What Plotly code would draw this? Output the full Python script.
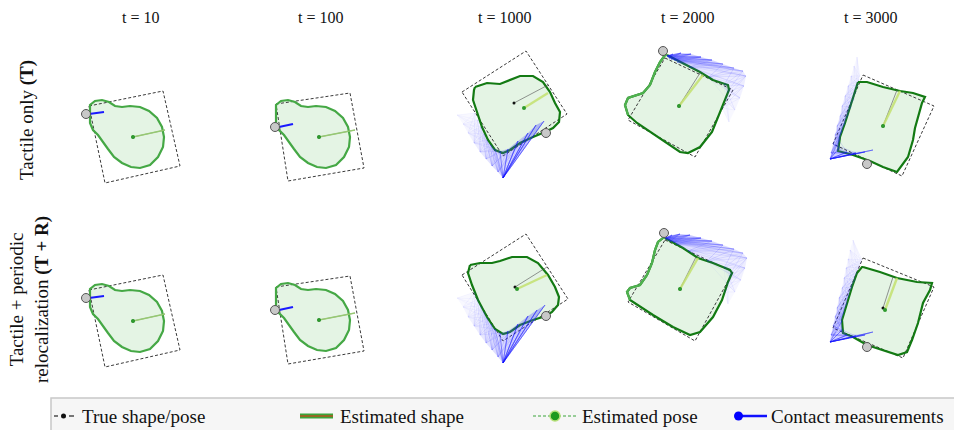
import plotly.graph_objects as go

FIG_W, FIG_H = 954, 430

# ---------------- text ----------------
col_titles = ["t = 10", "t = 100", "t = 1000", "t = 2000", "t = 3000"]
row_titles = ["Tactile only <b>(T)</b>",
              "Tactile + periodic<br>relocalization <b>(T + R)</b>"]
legend_labels = ["True shape/pose", "Estimated shape", "Estimated pose", "Contact measurements"]

# ---------------- data (local object frame, true pose at origin, y down) ----------------
# initial pear-shaped estimate (t = 10, t = 100)
pear_x = [-43, -43, -38, -31, -24, -18, -11, -3, 7, 16, 24, 29, 31, 30, 25, 17, 7, -2, -11, -19, -25, -30, -35, -40, -43]
pear_y = [-24, -32, -36, -37, -35, -31, -30, -31, -30, -26, -19, -10, 0, 10, 20, 28, 31, 30, 26, 20, 12, 5, -2, -7, -14]

t10_true_x = [-44, 30, 47, -28]
t10_true_y = [-31, -46, 29, 46]
t10_est_center = [0, 0]
t10_est_dir = [32, -7]
t10_true_dir = [32, -7]
t10_touch = [-47, -23]
t10_meas_x = [-44, -29]
t10_meas_y = [-23, -25]

t100_true_x = [-43, 31, 45, -31]
t100_true_y = [-33, -44, 31, 44]
t100_est_center = [0, 0]
t100_est_dir = [36, -7]
t100_true_dir = [36, -7]
t100_touch = [-44, -10]
t100_meas_x = [-40, -26]
t100_meas_y = [-10, -13]

# t = 1000
r1_t1000_est_x = [-39, -27, -14, -6, 6, 19, 29, 36, 41, 46, 45, 39, 31, 19, 6, -4, -11, -19, -26, -32, -37, -41, -40]
r1_t1000_est_y = [-16, -20, -19, -22, -27, -27, -21, -11, 0, 9, 19, 25, 29, 34, 40, 47, 50, 47, 37, 24, 10, -3, -13]
r1_t1000_true_x = [-52, 12, 53, -11]
r1_t1000_true_y = [-11, -52, 11, 53]
r1_t1000_est_center = [10, 5]
r1_t1000_est_dir = [34, -10]
r1_t1000_true_dir = [34, -18]
r1_t1000_touch = [32, 30]
r1_t1000_src_x = [-11, -11, -11, -11, -11, -16, -22, -28, -34, -40, -46, -51, -57]
r1_t1000_src_y = [75, 75, 75, 75, 75, 69, 63, 56, 49, 40, 30, 21, 12]
r1_t1000_hit_x = [30, 22, 14, 4, -6, -14, -19, -23, -27, -30, -33, -36, -39]
r1_t1000_hit_y = [18, 22, 30, 38, 46, 48, 46, 42, 37, 31, 24, 17, 10]

r2_t1000_est_x = [-45, -35, -23, -15, -3, 12, 23, 33, 40, 44, 43, 37, 31, 18, 5, -5, -12, -20, -28, -37, -43, -47]
r2_t1000_est_y = [-22, -24, -24, -26, -30, -30, -24, -12, 0, 10, 18, 25, 29, 33, 38, 45, 47, 42, 30, 13, -2, -14]
r2_t1000_true_x = [-53, 11, 53, -12]
r2_t1000_true_y = [-12, -53, 12, 54]
r2_t1000_est_center = [2, 2]
r2_t1000_est_dir = [32, -12]
r2_t1000_true_dir = [32, -20]
r2_t1000_touch = [31, 29]
r2_t1000_src_x = [-12, -12, -12, -12, -12, -17, -23, -29, -35, -41, -47, -52, -58]
r2_t1000_src_y = [76, 76, 76, 76, 76, 70, 63, 56, 48, 39, 30, 20, 11]
r2_t1000_hit_x = [30, 22, 13, 3, -7, -15, -20, -24, -28, -31, -34, -37, -40]
r2_t1000_hit_y = [18, 23, 29, 37, 44, 46, 42, 37, 31, 25, 19, 12, 5]

# t = 2000
r1_t2000_est_x = [-12, 8, 21, 34, 49, 50, 46, 39, 33, 21, 9, 1, -12, -29, -42, -51, -54, -51, -36, -29, -24, -19, -14]
r1_t2000_est_y = [-51, -41, -34, -26, -21, -16, -6, 11, 26, 41, 47, 46, 37, 26, 17, 9, -1, -8, -13, -21, -34, -44, -51]
r1_t2000_true_x = [-14, 54, 16, -51]
r1_t2000_true_y = [-48, -16, 51, 14]
r1_t2000_est_center = [0, 0]
r1_t2000_est_dir = [24, -31]
r1_t2000_true_dir = [21, -33]
r1_t2000_touch = [-16, -55]
r1_t2000_src_x = [-6, 2, 12, 22, 33, 44, 55, 64, 67, 65, 61, 56, 50]
r1_t2000_src_y = [-52, -53, -52, -49, -46, -42, -38, -35, -30, -20, -8, 4, 16]
r1_t2000_hit_x = [-12, -12, -11, -10, -8, -5, -2, 10, 30, 45, 48, 46, 43]
r1_t2000_hit_y = [-50, -50, -49, -48, -47, -46, -44, -39, -29, -21, -14, -6, 2]

r2_t2000_est_x = [-15, 3, 18, 33, 50, 52, 48, 42, 33, 20, 10, -7, -27, -43, -50, -53, -50, -40, -33, -28, -25, -22, -17]
r2_t2000_est_y = [-51, -41, -31, -26, -19, -16, -7, 11, 28, 43, 46, 38, 26, 16, 11, 3, -1, -4, -14, -26, -39, -47, -51]
r2_t2000_true_x = [-15, 53, 15, -52]
r2_t2000_true_y = [-49, -17, 52, 13]
r2_t2000_est_center = [0, 0]
r2_t2000_est_dir = [18, -31]
r2_t2000_true_dir = [16, -32]
r2_t2000_touch = [-16, -56]
r2_t2000_src_x = [-8, 0, 10, 21, 32, 43, 54, 63, 67, 65, 61, 55, 48]
r2_t2000_src_y = [-54, -55, -54, -51, -48, -44, -40, -36, -31, -21, -9, 3, 15]
r2_t2000_hit_x = [-15, -15, -14, -12, -10, -7, -4, 8, 27, 44, 49, 47, 44]
r2_t2000_hit_y = [-51, -51, -50, -49, -48, -47, -45, -38, -28, -21, -13, -5, 3]

# t = 3000
r1_t3000_est_x = [-25, -16, 0, 17, 30, 42, 39, 35, 32, 30, 25, 14, 0, -13, -30, -45, -43, -38, -33, -28, -25]
r1_t3000_est_y = [-44, -44, -39, -35, -33, -29, -23, -9, 2, 14, 31, 46, 41, 35, 29, 25, 11, -3, -19, -33, -43]
r1_t3000_true_x = [-20, 51, 19, -50]
r1_t3000_true_y = [-51, -20, 50, 18]
r1_t3000_est_center = [0, 0]
r1_t3000_est_dir = [17, -35]
r1_t3000_true_dir = [14, -36]
r1_t3000_touch = [-16, 38]
r1_t3000_src_x = [-53, -53, -53, -53, -52, -50, -48, -46, -43, -41, -38, -35, -32, -29, -26]
r1_t3000_src_y = [33, 33, 33, 33, 27, 18, 9, 0, -10, -20, -30, -40, -50, -60, -69]
r1_t3000_hit_x = [-10, -18, -27, -36, -44, -43, -41, -38, -35, -32, -29, -27, -25, -24, -23]
r1_t3000_hit_y = [24, 26, 27, 26, 22, 13, 5, -3, -11, -19, -27, -34, -41, -46, -50]

r2_t3000_est_x = [-20, -3, 14, 34, 49, 47, 40, 35, 29, 24, 15, 0, -16, -30, -40, -41, -36, -31, -26, -21]
r2_t3000_est_y = [-41, -36, -30, -26, -25, -18, -5, 15, 32, 44, 47, 42, 37, 29, 25, 12, -5, -21, -35, -41]
r2_t3000_true_x = [-20, 51, 20, -50]
r2_t3000_true_y = [-50, -21, 50, 20]
r2_t3000_est_center = [2, 2]
r2_t3000_est_dir = [14, -30]
r2_t3000_true_dir = [10, -31]
r2_t3000_touch = [-16, 39]
r2_t3000_src_x = [-53, -53, -53, -53, -52, -50, -48, -46, -44, -41, -39, -37, -35, -33, -30]
r2_t3000_src_y = [34, 34, 34, 34, 27, 18, 9, 0, -10, -20, -30, -40, -49, -58, -68]
r2_t3000_hit_x = [-10, -18, -27, -36, -41, -41, -39, -36, -34, -31, -28, -26, -24, -22, -21]
r2_t3000_hit_y = [24, 27, 28, 27, 22, 13, 4, -5, -13, -21, -28, -35, -41, -45, -48]

# ---------------- panel table (built from the arrays above) ----------------
def early(row, col, true_x, true_y, c, d, td, touch, mx, my):
    return dict(row=row, col=col, est_x=pear_x, est_y=pear_y, true_x=true_x, true_y=true_y,
                est_c=c, est_dir=d, true_dir=td, touch=touch, meas=(mx, my), fan=None,
                stage=0, light=None)

def late(row, col, ex, ey, tx, ty, c, d, td, touch, sx, sy, hx, hy, light=None):
    return dict(row=row, col=col, est_x=ex, est_y=ey, true_x=tx, true_y=ty,
                est_c=c, est_dir=d, true_dir=td, touch=touch, meas=None,
                fan=(sx, sy, hx, hy), stage=1, light=light)

panels = []
for r in (0, 1):
    panels.append(early(r, 0, t10_true_x, t10_true_y, t10_est_center, t10_est_dir, t10_true_dir,
                        t10_touch, t10_meas_x, t10_meas_y))
    panels.append(early(r, 1, t100_true_x, t100_true_y, t100_est_center, t100_est_dir, t100_true_dir,
                        t100_touch, t100_meas_x, t100_meas_y))
panels += [
    late(0, 2, r1_t1000_est_x, r1_t1000_est_y, r1_t1000_true_x, r1_t1000_true_y, r1_t1000_est_center,
         r1_t1000_est_dir, r1_t1000_true_dir, r1_t1000_touch, r1_t1000_src_x, r1_t1000_src_y,
         r1_t1000_hit_x, r1_t1000_hit_y),
    late(1, 2, r2_t1000_est_x, r2_t1000_est_y, r2_t1000_true_x, r2_t1000_true_y, r2_t1000_est_center,
         r2_t1000_est_dir, r2_t1000_true_dir, r2_t1000_touch, r2_t1000_src_x, r2_t1000_src_y,
         r2_t1000_hit_x, r2_t1000_hit_y),
    late(0, 3, r1_t2000_est_x, r1_t2000_est_y, r1_t2000_true_x, r1_t2000_true_y, r1_t2000_est_center,
         r1_t2000_est_dir, r1_t2000_true_dir, r1_t2000_touch, r1_t2000_src_x, r1_t2000_src_y,
         r1_t2000_hit_x, r1_t2000_hit_y, light=15),
    late(1, 3, r2_t2000_est_x, r2_t2000_est_y, r2_t2000_true_x, r2_t2000_true_y, r2_t2000_est_center,
         r2_t2000_est_dir, r2_t2000_true_dir, r2_t2000_touch, r2_t2000_src_x, r2_t2000_src_y,
         r2_t2000_hit_x, r2_t2000_hit_y, light=14),
    late(0, 4, r1_t3000_est_x, r1_t3000_est_y, r1_t3000_true_x, r1_t3000_true_y, r1_t3000_est_center,
         r1_t3000_est_dir, r1_t3000_true_dir, r1_t3000_touch, r1_t3000_src_x, r1_t3000_src_y,
         r1_t3000_hit_x, r1_t3000_hit_y),
    late(1, 4, r2_t3000_est_x, r2_t3000_est_y, r2_t3000_true_x, r2_t3000_true_y, r2_t3000_est_center,
         r2_t3000_est_dir, r2_t3000_true_dir, r2_t3000_touch, r2_t3000_src_x, r2_t3000_src_y,
         r2_t3000_hit_x, r2_t3000_hit_y),
]

# ---------------- layout geometry (pixels) ----------------
PANEL_ORIGIN = {
    (0, 0): (133, 137), (0, 1): (319, 137), (0, 2): (514, 103), (0, 3): (679, 106), (0, 4): (883, 126),
    (1, 0): (133, 321), (1, 1): (319, 320), (1, 2): (515, 287), (1, 3): (680, 289), (1, 4): (883, 308),
}
HW, HH = 70, 88
TITLE_X = [140, 320, 505, 687, 870]
SERIF = "Liberation Serif, Times New Roman, serif"

def px(x):
    return x / FIG_W

def py(y):
    return 1 - y / FIG_H

fig = go.Figure()
layout_axes = {}

for k, p in enumerate(panels):
    ox, oy = PANEL_ORIGIN[(p["row"], p["col"])]
    sfx = "" if k == 0 else str(k + 1)
    layout_axes["xaxis" + sfx] = dict(domain=[px(ox - HW), px(ox + HW)], range=[-HW, HW],
                                      visible=False, anchor="y" + sfx, fixedrange=True)
    layout_axes["yaxis" + sfx] = dict(domain=[py(oy + HH), py(oy - HH)], range=[HH, -HH],
                                      visible=False, anchor="x" + sfx, fixedrange=True)
    xa, ya = "x" + sfx, "y" + sfx
    common = dict(xaxis=xa, yaxis=ya, showlegend=False, hoverinfo="skip")

    ex = list(p["est_x"]) + [p["est_x"][0]]
    ey = list(p["est_y"]) + [p["est_y"][0]]
    # estimated shape fill
    fig.add_trace(go.Scatter(x=ex, y=ey, mode="lines", fill="toself",
                             fillcolor="rgba(120,200,120,0.20)", line=dict(width=0), **common))

    # true shape (dashed square)
    tx = list(p["true_x"]) + [p["true_x"][0]]
    ty = list(p["true_y"]) + [p["true_y"][0]]
    fig.add_trace(go.Scatter(x=tx, y=ty, mode="lines",
                             line=dict(color="#3a3a3a", width=1, dash="3px,2px"), **common))

    # estimated shape outline
    if p["stage"] == 0:
        fig.add_trace(go.Scatter(x=ex, y=ey, mode="lines",
                                 line=dict(color="#45a845", width=2.2), **common))
    else:
        fig.add_trace(go.Scatter(x=ex, y=ey, mode="lines",
                                 line=dict(color="#137a13", width=2.2), **common))
        if p["light"] is not None:
            i0 = p["light"]
            fig.add_trace(go.Scatter(x=ex[i0:], y=ey[i0:], mode="lines",
                                     line=dict(color="#4fb14f", width=2.2), **common))

    # contact measurements
    if p["fan"] is not None:
        sx, sy, hx, hy = p["fan"]
        n = len(sx)
        for i in range(n - 1):
            a = 0.34 * (1 - i / (n - 1)) ** 1.4 + 0.03
            fig.add_trace(go.Scatter(x=[sx[i], sx[i + 1], hx[i + 1], hx[i], sx[i]],
                                     y=[sy[i], sy[i + 1], hy[i + 1], hy[i], sy[i]],
                                     mode="lines", fill="toself", fillcolor=f"rgba(80,80,255,{a:.3f})",
                                     line=dict(width=0), **common))
        for i in range(n):
            a = 0.36 * (1 - i / n) ** 1.6 + 0.05
            xs, ys = [], []
            for j in range(max(0, i - 3), min(n, i + 4)):
                xs += [sx[i], hx[j], None]
                ys += [sy[i], hy[j], None]
            fig.add_trace(go.Scatter(x=xs, y=ys, mode="lines",
                                     line=dict(color=f"rgba(20,20,255,{a:.3f})", width=0.6), **common))
    if p["meas"] is not None:
        mx, my = p["meas"]
        fig.add_trace(go.Scatter(x=mx, y=my, mode="lines",
                                 line=dict(color="#1a1aff", width=2.2), **common))

    # orientation lines
    fig.add_trace(go.Scatter(x=[0, p["true_dir"][0]], y=[0, p["true_dir"][1]], mode="lines",
                             line=dict(color="rgba(90,90,90,0.8)", width=0.8), **common))
    ec = p["est_c"]
    if p["stage"] == 0:
        fig.add_trace(go.Scatter(x=[ec[0], p["est_dir"][0]], y=[ec[1], p["est_dir"][1]], mode="lines",
                                 line=dict(color="rgba(150,205,110,0.9)", width=1.3), **common))
    else:
        fig.add_trace(go.Scatter(x=[ec[0], p["est_dir"][0]], y=[ec[1], p["est_dir"][1]], mode="lines",
                                 line=dict(color="rgba(195,225,110,0.85)", width=2.4), **common))
    # centres
    fig.add_trace(go.Scatter(x=[0], y=[0], mode="markers",
                             marker=dict(color="#111", size=3), cliponaxis=False, **common))
    fig.add_trace(go.Scatter(x=[ec[0]], y=[ec[1]], mode="markers",
                             marker=dict(color="#2e9a2e", size=4), cliponaxis=False, **common))
    # touch point
    fig.add_trace(go.Scatter(x=[p["touch"][0]], y=[p["touch"][1]], mode="markers",
                             marker=dict(color="#c8c8c8", size=9, line=dict(color="#555", width=1)),
                             cliponaxis=False, **common))

# ---------------- annotations ----------------
annotations = []
for i, t in enumerate(col_titles):
    annotations.append(dict(x=px(TITLE_X[i]), y=py(17), xref="paper", yref="paper", text=t,
                            showarrow=False, xanchor="center", yanchor="middle",
                            font=dict(family=SERIF, size=16, color="#111")))
annotations.append(dict(x=px(27), y=py(120), xref="paper", yref="paper", text=row_titles[0],
                        showarrow=False, textangle=-90, xanchor="center", yanchor="middle",
                        font=dict(family=SERIF, size=19, color="#111")))
annotations.append(dict(x=px(29), y=py(300), xref="paper", yref="paper", text=row_titles[1],
                        showarrow=False, textangle=-90, xanchor="center", yanchor="middle",
                        font=dict(family=SERIF, size=19, color="#111")))

LEG_Y = 416
LEG_TEXT_X = [80, 338, 580, 769]
for i, lab in enumerate(legend_labels):
    annotations.append(dict(x=px(LEG_TEXT_X[i]), y=py(LEG_Y), xref="paper", yref="paper", text=lab,
                            showarrow=False, xanchor="left", yanchor="middle",
                            font=dict(family=SERIF, size=19, color="#111")))

# ---------------- legend box & icons (shapes) ----------------
shapes = [
    dict(type="rect", xref="paper", yref="paper", x0=px(51), x1=px(962), y0=py(445), y1=py(398),
         fillcolor="#f6f6f6", line=dict(color="#c8c8c8", width=1.5), layer="below"),
    # true shape / pose
    dict(type="line", xref="paper", yref="paper", x0=px(54), x1=px(58), y0=py(LEG_Y), y1=py(LEG_Y),
         line=dict(color="#222", width=1.2)),
    dict(type="line", xref="paper", yref="paper", x0=px(69), x1=px(74), y0=py(LEG_Y), y1=py(LEG_Y),
         line=dict(color="#222", width=1.2)),
    dict(type="circle", xref="paper", yref="paper", x0=px(61), x1=px(66), y0=py(LEG_Y + 2.5),
         y1=py(LEG_Y - 2.5), fillcolor="#111", line=dict(width=0)),
    # estimated shape
    dict(type="line", xref="paper", yref="paper", x0=px(300), x1=px(333), y0=py(LEG_Y), y1=py(LEG_Y),
         line=dict(color="#3aa43a", width=5)),
    dict(type="line", xref="paper", yref="paper", x0=px(300), x1=px(333), y0=py(LEG_Y), y1=py(LEG_Y),
         line=dict(color="#b2541e", width=1.5)),
    # estimated pose
    dict(type="line", xref="paper", yref="paper", x0=px(533), x1=px(578), y0=py(LEG_Y), y1=py(LEG_Y),
         line=dict(color="#3aa43a", width=1, dash="3px,2px")),
    dict(type="circle", xref="paper", yref="paper", x0=px(550), x1=px(560), y0=py(LEG_Y + 5),
         y1=py(LEG_Y - 5), fillcolor="#1e9a1e", line=dict(color="#b7e07a", width=1.5)),
    # contact measurements
    dict(type="line", xref="paper", yref="paper", x0=px(738), x1=px(767), y0=py(LEG_Y), y1=py(LEG_Y),
         line=dict(color="#1010ff", width=2.5)),
    dict(type="circle", xref="paper", yref="paper", x0=px(734), x1=px(743), y0=py(LEG_Y + 4.5),
         y1=py(LEG_Y - 4.5), fillcolor="#0000ff", line=dict(width=0)),
]

fig.update_layout(
    width=FIG_W, height=FIG_H,
    margin=dict(l=0, r=0, t=0, b=0),
    paper_bgcolor="white", plot_bgcolor="rgba(0,0,0,0)",
    showlegend=False,
    annotations=annotations,
    shapes=shapes,
    **layout_axes,
)

fig.write_html("out.html",
               config={"displayModeBar": False, "staticPlot": True},
               post_script="document.body.style.margin='0px';document.body.style.overflow='hidden';")
